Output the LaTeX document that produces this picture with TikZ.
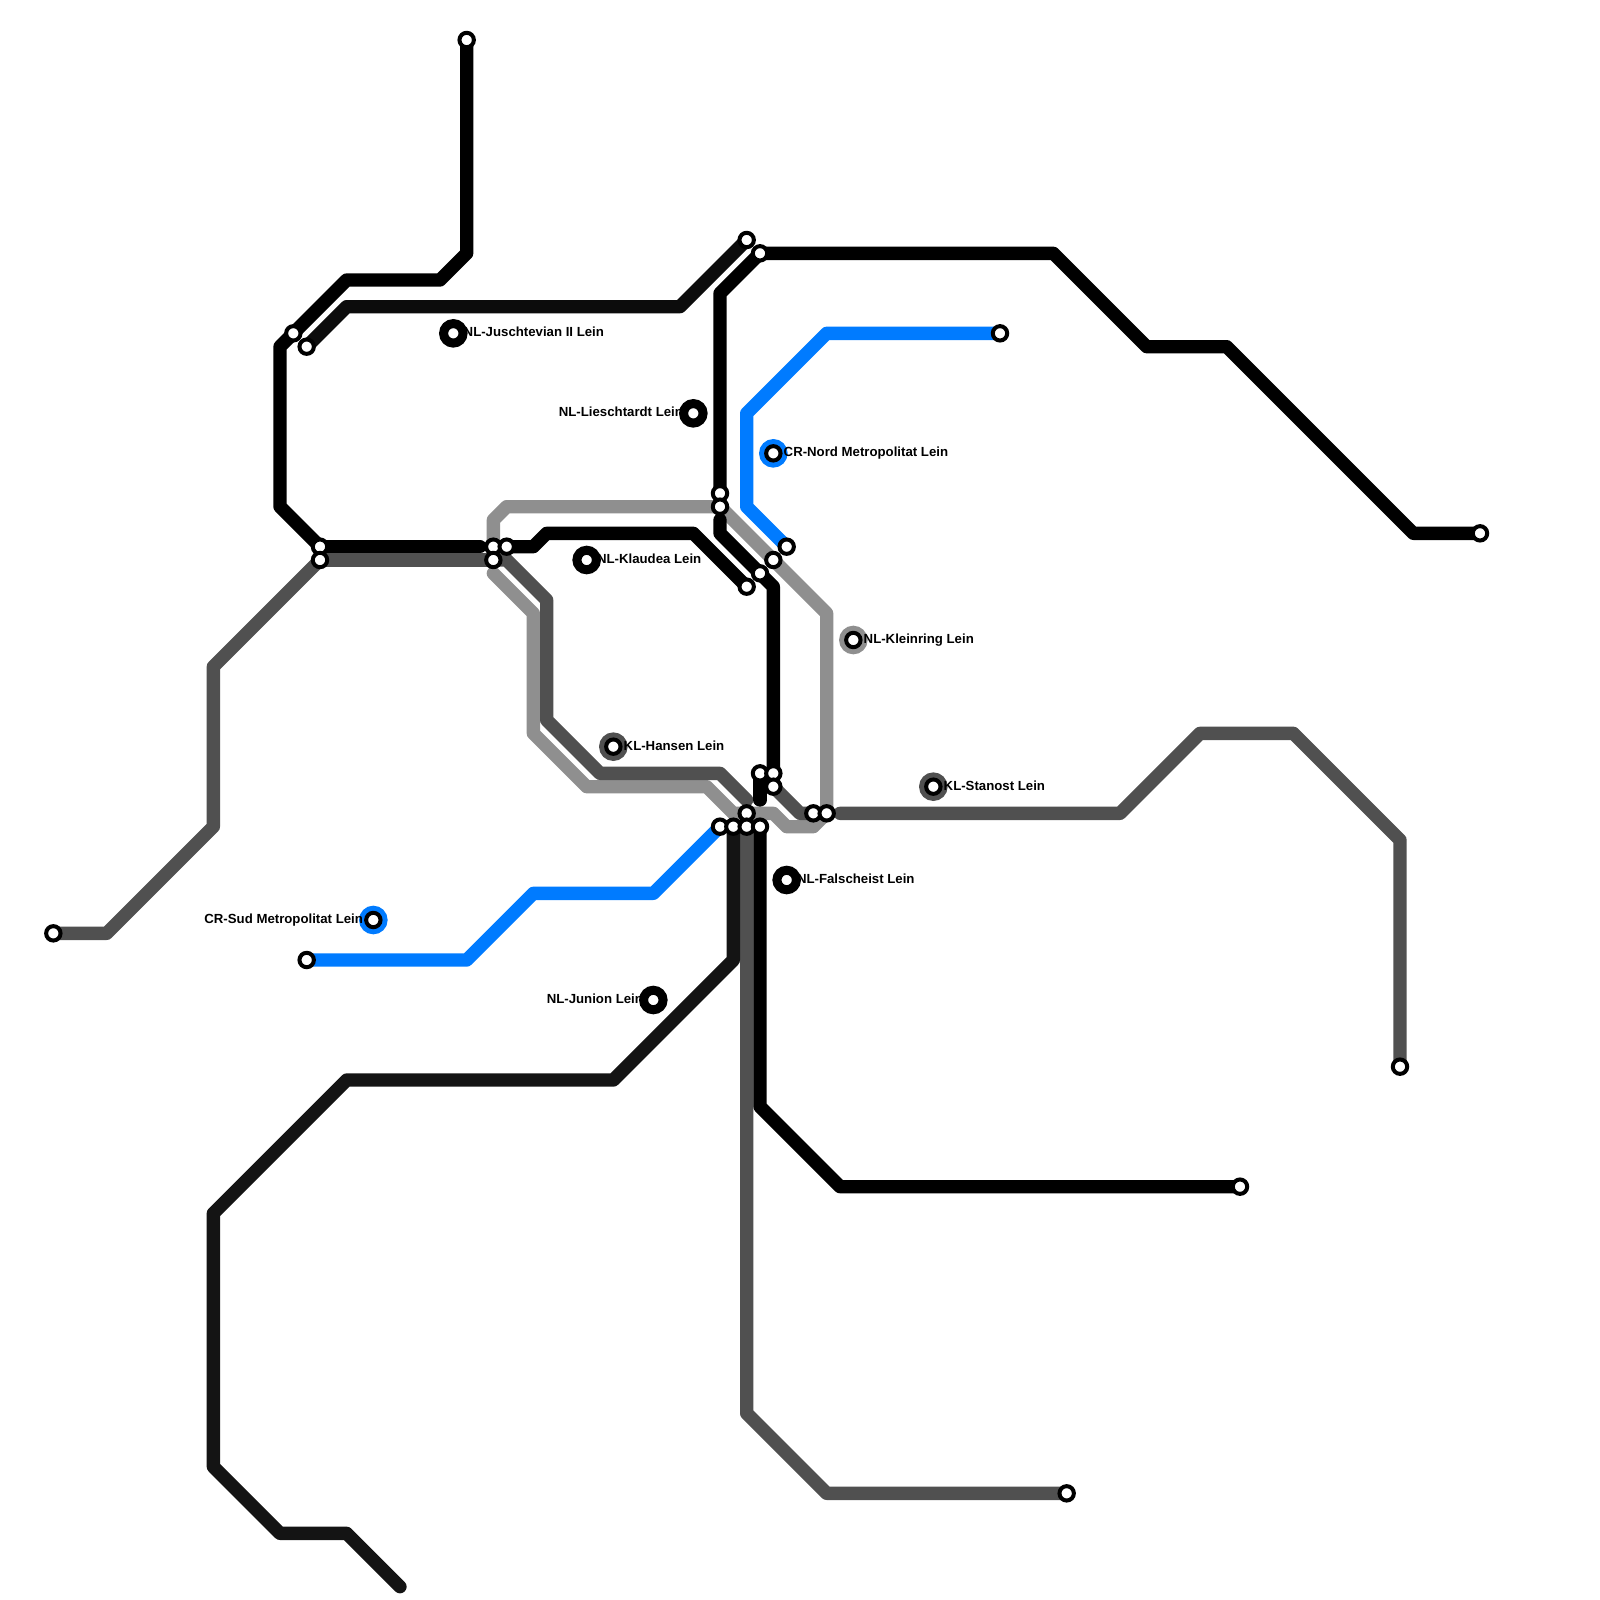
\documentclass[tikz,border=0pt]{standalone}
\usepackage{fontspec}
\setmainfont{Liberation Sans}
\usetikzlibrary{positioning, backgrounds}
\definecolor{lblue}{HTML}{007BFF}
\definecolor{lgray}{HTML}{8F8F8F}
\definecolor{ldark}{HTML}{505050}
\definecolor{lblk}{HTML}{000000}
\definecolor{lsoft}{HTML}{0C0C0C}
\definecolor{lcoal}{HTML}{141414}
\tikzset{
  lin/.style={line width=0.25cm, line cap=round, line join=round, draw=#1},
  stn/.style={circle, draw=black, fill=white, line width=0.075cm, inner sep=0pt, minimum size=0.27cm},
  xchg/.style={stn, preaction={draw=#1, line width=0.2625cm}},
  lab/.style={font=\fontsize{7.05}{8}\selectfont\bfseries, inner sep=0pt, text height=1.85mm, text depth=0.5mm}
}

\begin{document}
\begin{tikzpicture}[x=0.25cm, y=-0.25cm]
\useasboundingbox (0,0) rectangle (120,120);
\node[stn] (top) at (35,3) {};
\node[stn] (nw1) at (22,25) {};
\node[stn] (nw2) at (23,26) {};
\node[stn] (wb) at (24,41) {};
\node[stn] (wd) at (24,42) {};
\node[stn] (cg) at (37,41) {};
\node[stn] (cd) at (37,42) {};
\node[stn] (cb) at (38,41) {};
\node[stn] (nb) at (54,37) {};
\node[stn] (ng) at (54,38) {};
\node[stn] (ne1) at (56,18) {};
\node[stn] (ne2) at (57,19) {};
\node[stn] (bluen) at (75,25) {};
\node[stn] (bluem) at (59,41) {};
\node[stn] (mg) at (58,42) {};
\node[stn] (mb) at (57,43) {};
\node[stn] (me) at (56,44) {};
\node[stn] (east) at (111,40) {};
\node[stn] (sb1) at (57,58) {};
\node[stn] (sb2) at (58,58) {};
\node[stn] (sd1) at (58,59) {};
\node[stn] (sg1) at (56,61) {};
\node[stn] (sd2) at (61,61) {};
\node[stn] (sg2) at (62,61) {};
\node[stn] (hblue) at (54,62) {};
\node[stn] (hcoal) at (55,62) {};
\node[stn] (hdark) at (56,62) {};
\node[stn] (hblk) at (57,62) {};
\node[stn] (west) at (4,70) {};
\node[stn] (blues) at (23,72) {};
\node[stn] (far) at (105,80) {};
\node[stn] (se) at (93,89) {};
\node[stn] (south) at (80,112) {};
\coordinate (gend) at (37,43);
\coordinate (wend) at (36,41);
\coordinate (dend) at (56,60);
\coordinate (dstart) at (63,61);
\coordinate (bend) at (54,39);
\coordinate (stub) at (57,60);
\coordinate (cend) at (30,119);

\node[xchg=lblk] (jus) at (34,25) {};
\node[xchg=lblk] (lie) at (52,31) {};
\node[xchg=lblue] (nord) at (58,34) {};
\node[xchg=lblk] (kla) at (44,42) {};
\node[xchg=lgray] (kle) at (64,48) {};
\node[xchg=ldark] (han) at (46,56) {};
\node[xchg=ldark] (sta) at (70,59) {};
\node[xchg=lblk] (fal) at (59,66) {};
\node[xchg=lblue] (sud) at (28,69) {};
\node[xchg=lblk] (jun) at (49,75) {};

\node[lab, right=0.15mm of jus] (jusl) {NL-Juschtevian II Lein};
\node[lab, left=0.15mm of lie] (liel) {NL-Lieschtardt Lein};
\node[lab, right=0.15mm of nord] (nordl) {CR-Nord Metropolitat Lein};
\node[lab, right=0.15mm of kla] (klal) {NL-Klaudea Lein};
\node[lab, right=0.15mm of kle] (klel) {NL-Kleinring Lein};
\node[lab, right=0.15mm of han] (hanl) {KL-Hansen Lein};
\node[lab, right=0.15mm of sta] (stal) {KL-Stanost Lein};
\node[lab, right=0.15mm of fal] (fall) {NL-Falscheist Lein};
\node[lab, left=0.15mm of sud] (sudl) {CR-Sud Metropolitat Lein};
\node[lab, left=0.15mm of jun] (junl) {NL-Junion Lein};

\begin{scope}[on background layer]
% gray
\draw[lin=lgray] (gend) -- (40,46) -- (40,55) -- (44,59) -- (53,59) -- (55,61) -- (sg1.center);
\draw[lin=lgray] (sg1.center) -- (58,61) -- (59,62) -- (61,62) -- (sg2.center);
\draw[lin=lgray] (sg2.center) -- (62,46) -- (mg.center);
\draw[lin=lgray] (mg.center) -- (ng.center);
\draw[lin=lgray] (ng.center) -- (38,38) -- (37,39) -- (cg.center);
% dark
\draw[lin=ldark] (west.center) -- (8,70) -- (16,62) -- (16,50) -- (wd.center);
\draw[lin=ldark] (wd.center) -- (cd.center);
\draw[lin=ldark] (cd.center) -- (38,42) -- (41,45) -- (41,54) -- (45,58) -- (54,58) -- (dend);
\draw[lin=ldark] (hdark.center) -- (56,106) -- (62,112) -- (south.center);
\draw[lin=ldark] (sd1.center) -- (60,61) -- (sd2.center);
\draw[lin=ldark] (dstart) -- (84,61) -- (90,55) -- (97,55) -- (105,63) -- (far.center);
% black
\draw[lin=lblk] (top.center) -- (35,19) -- (33,21) -- (26,21) -- (nw1.center);
\draw[lin=lblk] (nw1.center) -- (21,26) -- (21,38) -- (wb.center);
\draw[lin=lblk] (wb.center) -- (wend);
\draw[lin=lblk] (cb.center) -- (40,41) -- (41,40) -- (52,40) -- (me.center);
\draw[lin=lsoft] (ne1.center) -- (51,23) -- (26,23) -- (nw2.center);
\draw[lin=lblk] (ne2.center) -- (54,22) -- (nb.center);
\draw[lin=lblk] (ne2.center) -- (79,19) -- (86,26) -- (92,26) -- (106,40) -- (east.center);
\draw[lin=lblk] (bend) -- (54,40) -- (mb.center);
\draw[lin=lblk] (mb.center) -- (58,44) -- (sb2.center);
\draw[lin=lblk] (sb1.center) -- (stub);
\draw[lin=lcoal] (hcoal.center) -- (55,72) -- (46,81) -- (26,81) -- (16,91) -- (16,110) -- (21,115) -- (26,115) -- (cend);
\draw[lin=lblk] (hblk.center) -- (57,83) -- (63,89) -- (se.center);
% blue
\draw[lin=lblue] (bluen.center) -- (62,25) -- (56,31) -- (56,38) -- (bluem.center);
\draw[lin=lblue] (hblue.center) -- (49,67) -- (40,67) -- (35,72) -- (blues.center);
\end{scope}
\end{tikzpicture}
\end{document}
